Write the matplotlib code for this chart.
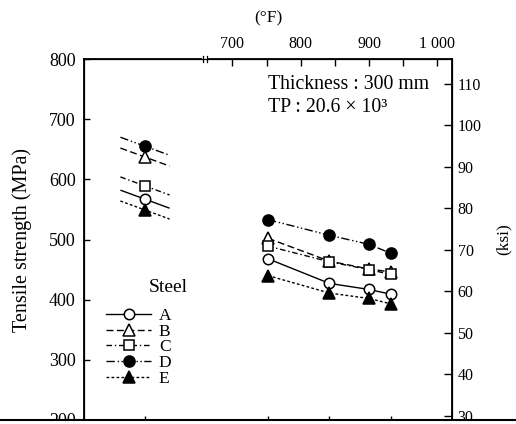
import numpy as np
import matplotlib
matplotlib.use("Agg")
import matplotlib.pyplot as plt
from matplotlib.patches import Rectangle
from matplotlib.lines import Line2D

plt.rcParams['font.family'] = ['Liberation Serif', 'DejaVu Serif']

# ---------------- data ----------------
steels = ['A', 'B', 'C', 'D', 'E']
temp_rt = 20                      # room temperature (°C), drawn left of axis break
temps = [400, 450, 482, 500]      # test temperatures (°C)
rt_values = {'A': 567, 'B': 637, 'C': 589, 'D': 655, 'E': 549}
hot_values = {
    'A': [468, 427, 417, 409],
    'B': [502, 464, 451, 446],
    'C': [489, 463, 450, 442],
    'D': [533, 507, 492, 477],
    'E': [440, 411, 402, 393],
}
rt_trend_slope = -0.75            # MPa per °C, short trend segment at RT
rt_trend_half = 20                # °C half span of RT segment
mpa_ticks = [200, 300, 400, 500, 600, 700, 800]
ksi_ticks = [30, 40, 50, 60, 70, 80, 90, 100, 110]
degF_major = [700, 800, 900, 1000]
degF_major_labels = ['700', '800', '900', '1 000']
degF_minor = [750, 850, 950]
MPA_PER_KSI = 6.894757

# ---------------- styles ----------------
styles = {
    'A': dict(marker='o', mfc='white', dashes=()),
    'B': dict(marker='^', mfc='white', dashes=(5, 2.5)),
    'C': dict(marker='s', mfc='white', dashes=(4, 2, 1, 2)),
    'D': dict(marker='o', mfc='black', dashes=(6, 2, 1, 1.8, 1, 1.8)),
    'E': dict(marker='^', mfc='black', dashes=(2, 1.6)),
}
msize = {'A': 7.5, 'B': 8, 'C': 7, 'D': 8, 'E': 8}

# broken temperature axis: RT region mapped next to the high-temperature region
def fwd(t):
    t = np.asarray(t, dtype=float)
    return np.where(t <= 70, t + 280, np.where(t < 350, 350.0, t))

def inv(p):
    p = np.asarray(p, dtype=float)
    return np.where(p <= 350, p - 280, p)

W, H = 516, 424
fig = plt.figure(figsize=(W / 100, H / 100), dpi=100)
L, R, T, B = 84, 452, 59, 420
ax = fig.add_axes([L / W, 1 - B / H, (R - L) / W, (B - T) / H])

ax.set_xscale('function', functions=(fwd, inv))
xlim = (-29.6, 549.6)
ylim = (200, 800)

handles = []
for s in steels:
    st = styles[s]
    ln, = ax.plot(temps, hot_values[s], color='black', lw=1.0,
                  marker=st['marker'], ms=msize[s], mfc=st['mfc'], mec='black',
                  mew=1.1, dashes=st['dashes'], zorder=3)
    ax.plot([temp_rt], [rt_values[s]], ls='none', marker=st['marker'],
            ms=msize[s], mfc=st['mfc'], mec='black', mew=1.1, zorder=4)
    tt = np.array([temp_rt - rt_trend_half, temp_rt + rt_trend_half])
    ax.plot(tt, rt_values[s] + rt_trend_slope * (tt - temp_rt), color='black',
            lw=1.0, dashes=st['dashes'] if st['dashes'] else (8, 0.001), zorder=2)
    handles.append(ln)

ax.set_xlim(*xlim)
ax.set_ylim(*ylim)
ax.set_yticks(mpa_ticks)
ax.set_xticks([temp_rt] + temps[:2] + [temps[3]])
ax.tick_params(axis='x', direction='in', length=3, width=1.0, labelbottom=False)
ax.tick_params(axis='y', direction='in', length=4, width=1.0, labelsize=13, pad=6)
ax.set_ylabel('Tensile strength (MPa)', fontsize=14.5, labelpad=12)
for sp in ax.spines.values():
    sp.set_linewidth(1.3)

# right axis in ksi
ax2 = ax.twinx()
ax2.set_ylim(ylim[0] / MPA_PER_KSI, ylim[1] / MPA_PER_KSI)
ax2.set_yticks(ksi_ticks)
ax2.tick_params(axis='y', direction='in', length=6, width=1.0, labelsize=11.5, pad=4)
ax2.set_ylabel('(ksi)', fontsize=12.5, labelpad=10)

# top axis in °F
ax3 = ax.twiny()
ax3.set_xscale('function', functions=(fwd, inv))
ax3.set_xlim(*xlim)
to_c = lambda f: (np.asarray(f, dtype=float) - 32) * 5 / 9
ax3.set_xticks(to_c(degF_major))
ax3.set_xticklabels(degF_major_labels)
ax3.set_xticks(to_c(degF_minor), minor=True)
ax3.tick_params(axis='x', which='both', direction='in', length=5, width=1.0,
                labelsize=11.5, pad=5)
ax3.set_xlabel('(°F)', fontsize=12.5, labelpad=10)

# axis break mark on the top spine
brk = (205 - L) / (R - L)
ax.plot([brk - 0.004, brk + 0.004], [1, 1], transform=ax.transAxes, color='white',
        lw=3, clip_on=False, zorder=6)
for dx in (-0.005, 0.005):
    ax.plot([brk + dx, brk + dx], [0.993, 1.007], transform=ax.transAxes,
            color='black', lw=0.9, clip_on=False, zorder=7)

# annotations
ax.text(0.50, 0.928, 'Thickness : 300 mm', transform=ax.transAxes, fontsize=14.2,
        va='center', ha='left')
ax.text(0.50, 0.866, 'TP : 20.6 × 10³', transform=ax.transAxes, fontsize=14.2,
        va='center', ha='left')

# legend
ax.text((168 - L) / (R - L), 1 - (288 - T) / (B - T), 'Steel', transform=ax.transAxes,
        fontsize=14, ha='center', va='center')
leg = ax.legend(handles, steels, loc='upper left',
                bbox_to_anchor=((106 - L) / (R - L), 1 - (308 - T) / (B - T)),
                frameon=False, fontsize=12.5, handlelength=2.6, handletextpad=0.45,
                labelspacing=-0.03, borderpad=0, borderaxespad=0)

# scan edge at the bottom
fig.add_artist(Rectangle((0, 0), 1, (H - B) / H, transform=fig.transFigure,
                         facecolor='white', edgecolor='none', zorder=20))
fig.add_artist(Line2D([0, 1], [(H - B) / H] * 2, transform=fig.transFigure,
                      color='black', lw=1.5, zorder=21))

fig.savefig('out.png', dpi=100)
